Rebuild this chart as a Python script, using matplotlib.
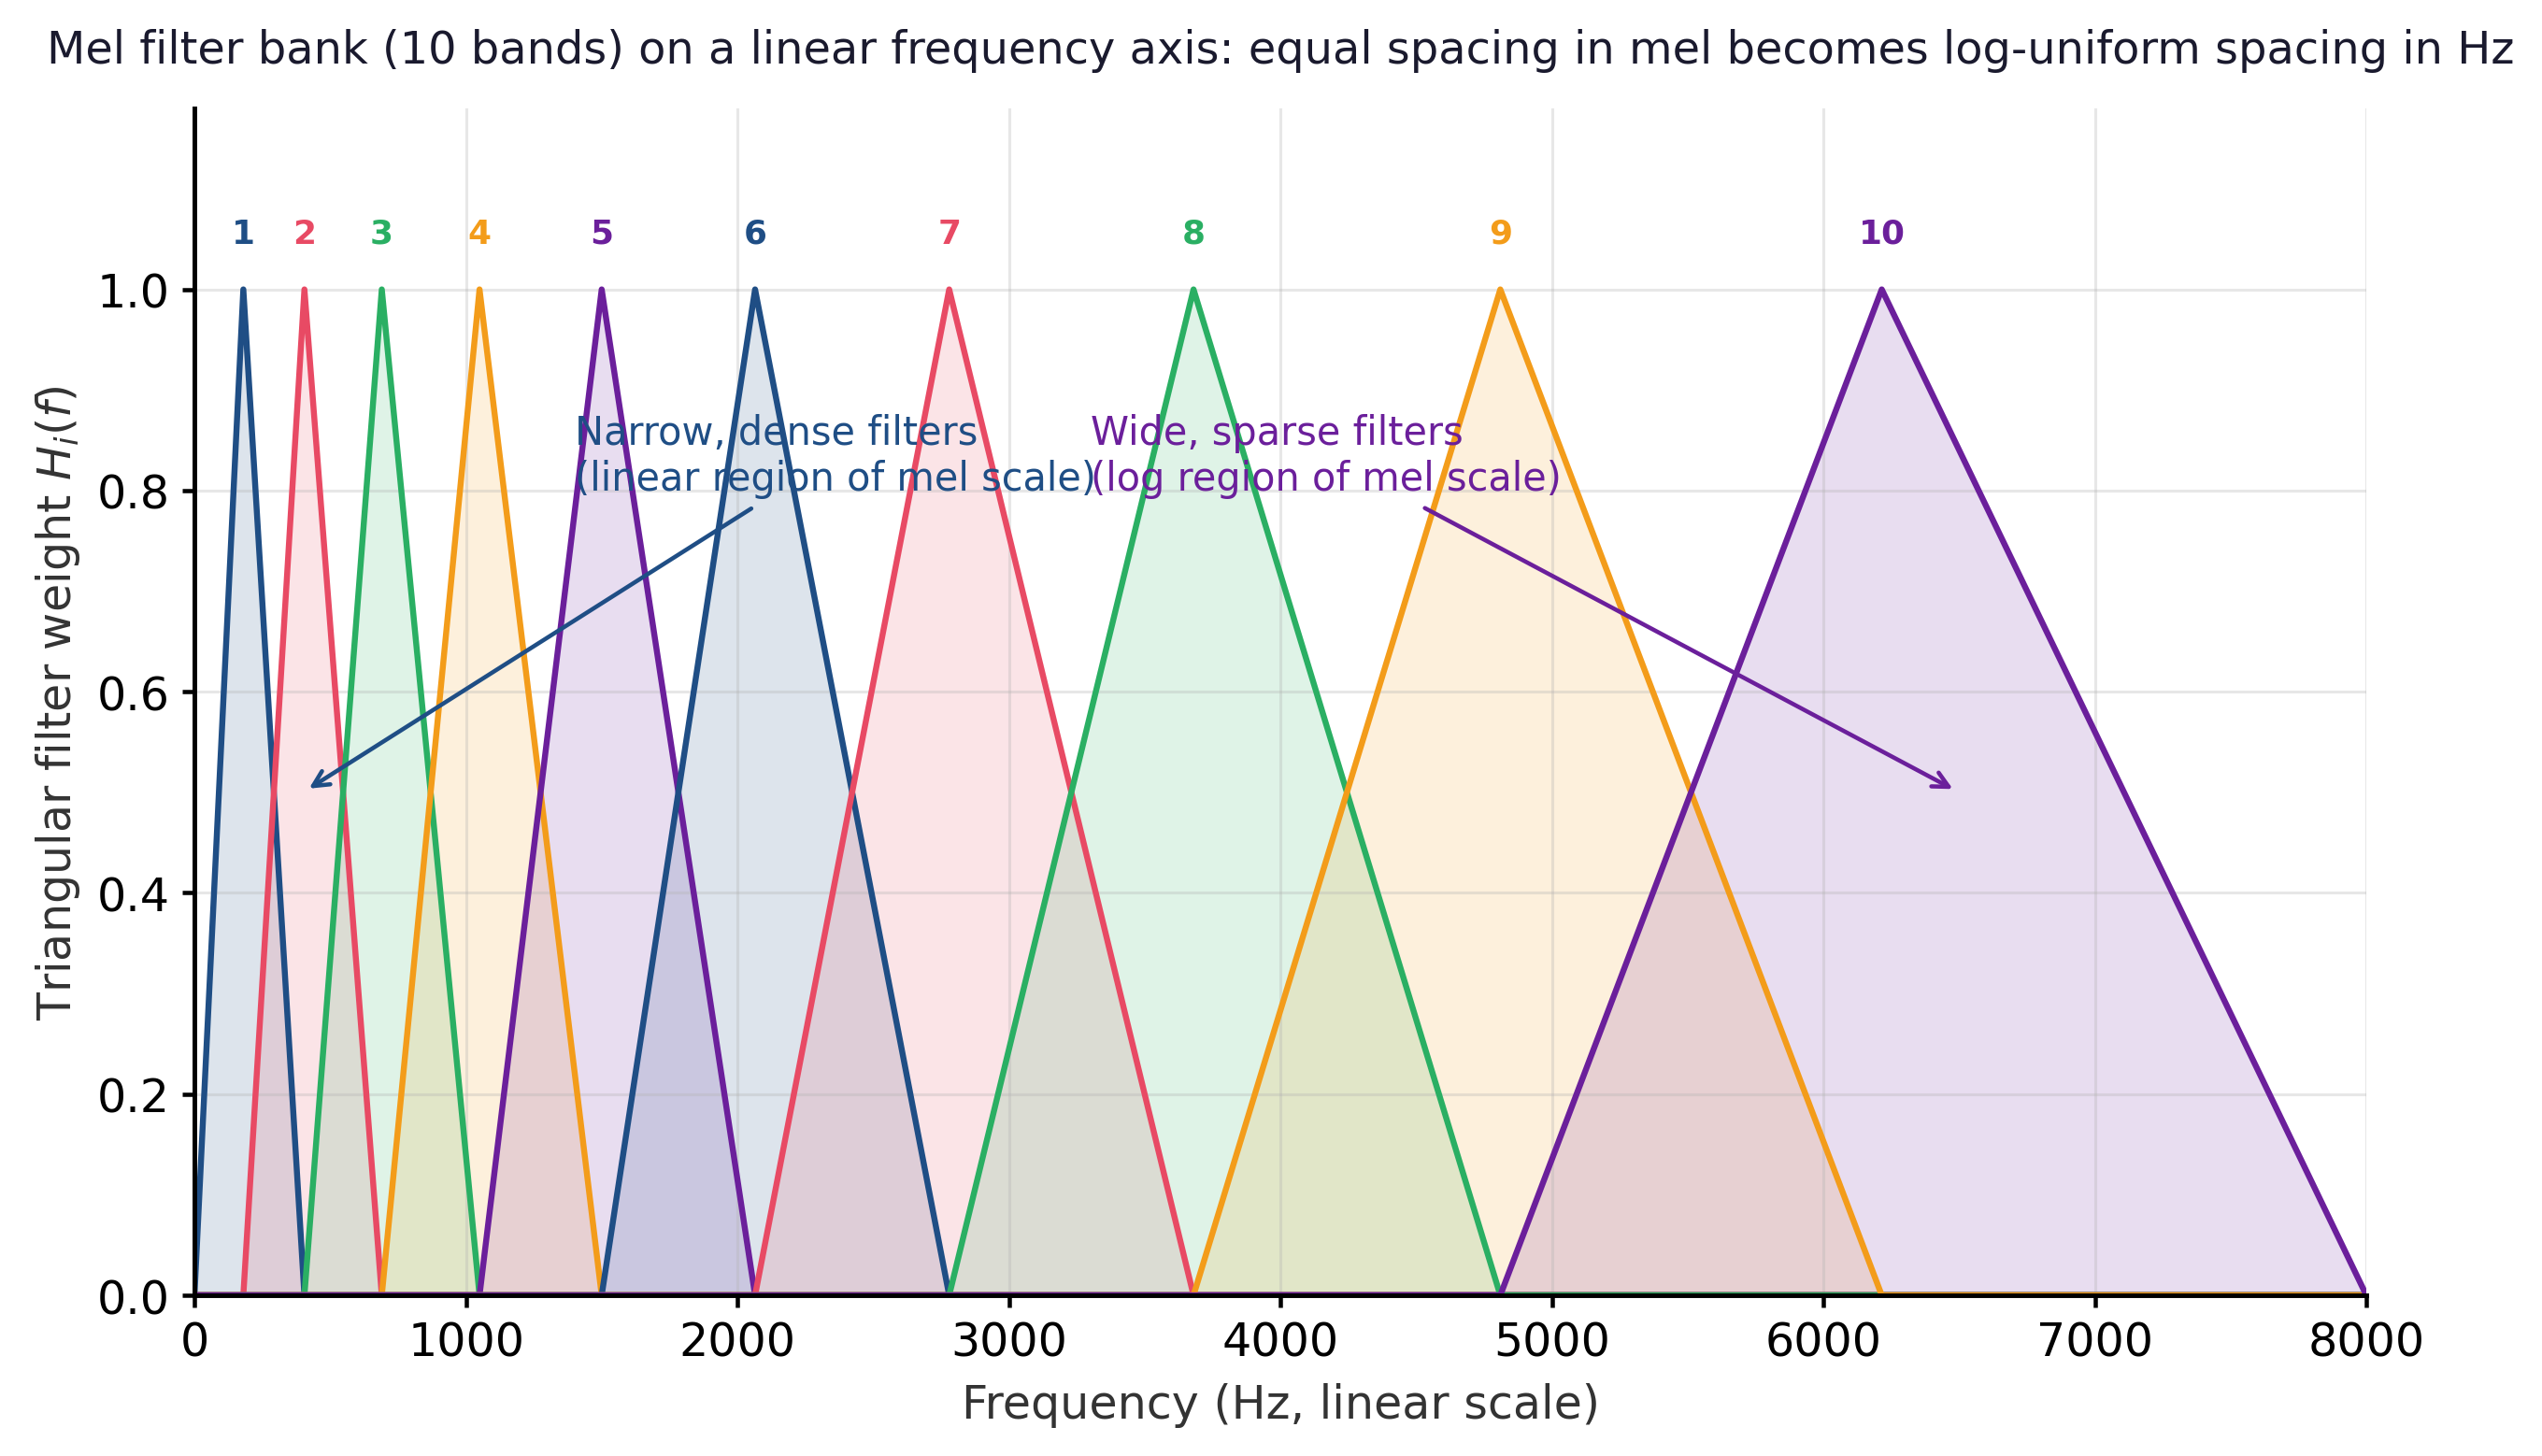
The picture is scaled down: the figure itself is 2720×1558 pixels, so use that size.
import numpy as np
import matplotlib
matplotlib.use('Agg')
import matplotlib.pyplot as plt

# band edge frequencies (Hz): 10 filters -> 12 edges
edges_hz = [0, 180, 405, 690, 1050, 1500, 2065, 2780, 3680, 4810, 6215, 8000]
peak_weight = [1.0, 1.0, 1.0, 1.0, 1.0, 1.0, 1.0, 1.0, 1.0, 1.0]
band_labels = ['1', '2', '3', '4', '5', '6', '7', '8', '9', '10']
band_colors = ['#1f4e85', '#e84a64', '#2aaf63', '#f39c1a', '#6b1f9b',
               '#1f4e85', '#e84a64', '#2aaf63', '#f39c1a', '#6b1f9b']

xticks = [0, 1000, 2000, 3000, 4000, 5000, 6000, 7000, 8000]
yticks = [0.0, 0.2, 0.4, 0.6, 0.8, 1.0]

plt.rcParams['font.family'] = ['DejaVu Sans']
fig = plt.figure(figsize=(10, 5.7316), dpi=272)
ax = fig.add_axes([0.0765, 0.1103, 0.8544, 0.8147])

f_lo, f_hi = edges_hz[0], edges_hz[-1]
for i in range(len(band_labels)):
    xs = [f_lo, edges_hz[i], edges_hz[i + 1], edges_hz[i + 2], f_hi]
    ys = [0, 0, peak_weight[i], 0, 0]
    c = band_colors[i]
    ax.fill_between(xs, 0, ys, color=c, alpha=0.15, linewidth=0)
    ax.plot(xs, ys, color=c, lw=1.7)
    ax.text(edges_hz[i + 1], peak_weight[i] + 0.04, band_labels[i], color=c,
            fontsize=9.5, fontweight='bold', ha='center', va='bottom')

ax.annotate('Narrow, dense filters\n(linear region of mel scale)',
            xy=(400, 0.5), xytext=(1400, 0.835), ha='left', va='center',
            fontsize=11, color='#1f4e85',
            arrowprops=dict(arrowstyle='->', color='#1f4e85', lw=1.2))
ax.annotate('Wide, sparse filters\n(log region of mel scale)',
            xy=(6500, 0.5), xytext=(3300, 0.835), ha='left', va='center',
            fontsize=11, color='#6b1f9b',
            arrowprops=dict(arrowstyle='->', color='#6b1f9b', lw=1.2))

ax.set_xlim(0, 8000)
ax.set_ylim(0, 1.18)
ax.set_xticks(xticks)
ax.set_yticks(yticks)
ax.tick_params(labelsize=13, width=1.2)
ax.grid(True, color='#b0b0b0', alpha=0.3, lw=0.8)
for s in ['top', 'right']:
    ax.spines[s].set_visible(False)
for s in ['left', 'bottom']:
    ax.spines[s].set_linewidth(1.3)

ax.set_xlabel('Frequency (Hz, linear scale)', fontsize=13, color='#333333', labelpad=5)
ax.set_ylabel('Triangular filter weight $H_i(f)$', fontsize=13, color='#333333')
ax.set_title('Mel filter bank (10 bands) on a linear frequency axis: equal spacing in mel '
             'becomes log-uniform spacing in Hz', fontsize=12.7, color='#1a1a2e', pad=13)

fig.savefig('out.png', dpi=272)
